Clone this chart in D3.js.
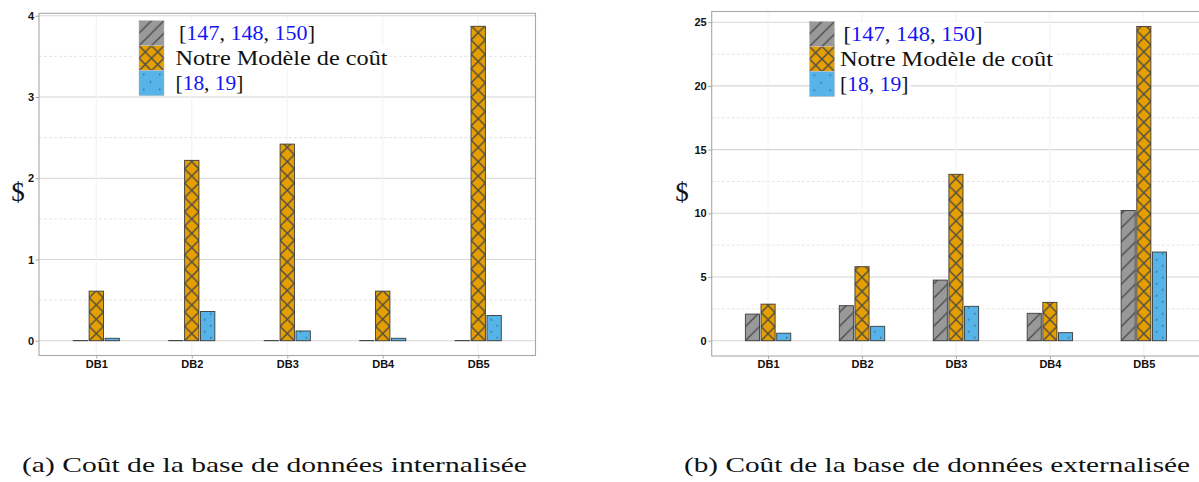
<!DOCTYPE html>
<html>
<head>
<meta charset="utf-8">
<script src="https://cdn.jsdelivr.net/npm/d3@7"></script>
<style>
  html, body { margin: 0; padding: 0; background: #fff; }
  svg { display: block; }
</style>
</head>
<body>
<svg id="fig" width="1199" height="482"></svg>
<script>
// Database cost per configuration, in dollars
const categories = ["DB1", "DB2", "DB3", "DB4", "DB5"];
const seriesLabels = ["[147, 148, 150]", "Notre Modèle de coût", "[18, 19]"];

// (a) internal database
const internalRefs  = [0.002, 0.002, 0.002, 0.002, 0.002];
const internalModel = [0.61, 2.22, 2.42, 0.61, 3.87];
const internalCloud = [0.03, 0.36, 0.12, 0.03, 0.31];
const internalTicks = [0, 1, 2, 3, 4];
const internalMinor = [0.5, 1.5, 2.5, 3.5];

// (b) outsourced database
const externalRefs  = [2.09, 2.75, 4.76, 2.15, 10.22];
const externalModel = [2.87, 5.81, 13.06, 3.01, 24.66];
const externalCloud = [0.59, 1.13, 2.70, 0.63, 6.96];
const externalTicks = [0, 5, 10, 15, 20, 25];
const externalMinor = [2.5, 7.5, 12.5, 17.5, 22.5];

const captions = ["(a) Coût de la base de données internalisée",
                  "(b) Coût de la base de données externalisée"];

const fills = ["#999999", "#E69F00", "#56B4E9"];
const patternKinds = ["stripe", "cross", "dots"];
const inkColor = "#4a4a4a";

const svg = d3.select("#fig");
const defs = svg.append("defs");
let patternId = 0;

// Builds a fill pattern anchored at (ox, oy)
function makePattern(kind, fill, ox, oy, tile, dotRows) {
  const id = "pat" + (patternId++);
  const h = kind === "dots" ? dotRows : tile;
  const p = defs.append("pattern")
    .attr("id", id)
    .attr("patternUnits", "userSpaceOnUse")
    .attr("x", ox).attr("y", oy)
    .attr("width", tile).attr("height", h);
  p.append("rect").attr("width", tile).attr("height", h).attr("fill", fill);
  if (kind === "stripe") {
    const segs = [[-tile/2, tile/2, tile/2, -tile/2], [0, tile, tile, 0], [tile/2, tile*1.5, tile*1.5, tile/2]];
    segs.forEach(s => p.append("line")
      .attr("x1", s[0]).attr("y1", s[1]).attr("x2", s[2]).attr("y2", s[3])
      .attr("stroke", inkColor).attr("stroke-width", 1.3));
  } else if (kind === "cross") {
    p.append("line").attr("x1", 0).attr("y1", 0).attr("x2", tile).attr("y2", tile)
      .attr("stroke", inkColor).attr("stroke-width", 1.4);
    p.append("line").attr("x1", 0).attr("y1", tile).attr("x2", tile).attr("y2", 0)
      .attr("stroke", inkColor).attr("stroke-width", 1.4);
  } else {
    p.append("circle").attr("cx", tile * 0.3).attr("cy", h * 0.25).attr("r", 0.75).attr("fill", "#2e4a60");
    p.append("circle").attr("cx", tile * 0.72).attr("cy", h * 0.75).attr("r", 0.75).attr("fill", "#2e4a60");
  }
  return "url(#" + id + ")";
}

// Stretches a text element to a given width
function fitWidth(sel, w) {
  sel.attr("textLength", w).attr("lengthAdjust", "spacingAndGlyphs");
}

function drawPanel(cfg) {
  const g = svg.append("g");
  const x = d3.scalePoint().domain(categories).range([cfg.left, cfg.right]).padding(0.6);
  const step = x.step();
  const dodge = d3.scalePoint().domain(d3.range(3)).range([-step / 6, step / 6]);
  const barW = step * 0.15;
  const y = d3.scaleLinear().domain(cfg.yDomain).range([cfg.bottom, cfg.top]);

  // grid
  const grid = g.append("g");
  grid.selectAll("line.minor").data(cfg.minor).join("line")
    .attr("x1", cfg.left).attr("x2", cfg.right)
    .attr("y1", d => y(d)).attr("y2", d => y(d))
    .attr("stroke", "#e2e2e2").attr("stroke-width", 0.9).attr("stroke-dasharray", "3,2");
  grid.selectAll("line.major").data(cfg.ticks).join("line")
    .attr("x1", cfg.left).attr("x2", cfg.right)
    .attr("y1", d => y(d)).attr("y2", d => y(d))
    .attr("stroke", "#d6d6d6").attr("stroke-width", 1.1);
  grid.selectAll("line.vert").data(categories).join("line")
    .attr("x1", d => x(d)).attr("x2", d => x(d))
    .attr("y1", cfg.top).attr("y2", cfg.bottom)
    .attr("stroke", "#f1f1f1").attr("stroke-width", 1);

  // bars
  const rows = [];
  cfg.series.forEach((vals, s) => vals.forEach((v, i) => rows.push({ s, cat: categories[i], v })));
  g.append("g").selectAll("rect").data(rows).join("rect")
    .each(function (d) {
      const bx = x(d.cat) + dodge(d.s) - barW / 2;
      const by = y(d.v);
      const bh = y(0) - y(d.v);
      d3.select(this)
        .attr("x", bx).attr("y", by).attr("width", barW).attr("height", bh)
        .attr("fill", makePattern(patternKinds[d.s], fills[d.s], bx, y(0), barW, 12))
        .attr("stroke", "#3a3a3a").attr("stroke-width", 0.9);
    });

  // legend: each row sits on its own white band
  const lg = g.append("g");
  seriesLabels.forEach((label, s) => {
    const ry = cfg.legendY + s * 25;
    const row = lg.append("g");
    const bg = row.append("rect").attr("fill", "#fff");
    const t = row.append("text")
      .attr("x", cfg.legendTextX[s]).attr("y", ry + 19)
      .attr("font-family", "'Liberation Serif', 'Times New Roman', serif")
      .attr("font-size", 20).attr("fill", "#111");
    if (s === 1) {
      t.text(label);
    } else {
      const parts = label.match(/\d+|[^\d]+/g);
      parts.forEach(pt => t.append("tspan").text(pt)
        .attr("fill", /\d/.test(pt) ? "#1515f5" : "#111"));
    }
    fitWidth(t, cfg.legendTextW[s]);
    bg.attr("x", cfg.legendBgX).attr("y", ry)
      .attr("width", cfg.legendTextX[s] + cfg.legendTextW[s] + 2 - cfg.legendBgX)
      .attr("height", 25);
    row.append("rect")
      .attr("x", cfg.legendKeyX).attr("y", ry).attr("width", 25).attr("height", 25)
      .attr("fill", makePattern(patternKinds[s], fills[s], cfg.legendKeyX, ry, s === 2 ? 16 : 12.5, 15))
      .attr("stroke", "#b8b8b8").attr("stroke-width", 0.5);
  });

  // panel border
  g.append("rect")
    .attr("x", cfg.left).attr("y", cfg.top)
    .attr("width", cfg.right - cfg.left).attr("height", cfg.bottom - cfg.top)
    .attr("fill", "none").attr("stroke", "#a8a8a8").attr("stroke-width", 1.1);

  // axes
  const yAxis = g.append("g").attr("transform", `translate(${cfg.left},0)`)
    .call(d3.axisLeft(y).tickValues(cfg.ticks).tickFormat(d3.format("d"))
      .tickSize(3.5).tickPadding(1.5));
  const xAxis = g.append("g").attr("transform", `translate(0,${cfg.bottom})`)
    .call(d3.axisBottom(x).tickSize(3).tickPadding(1.5));
  [yAxis, xAxis].forEach(a => {
    a.select(".domain").remove();
    a.selectAll(".tick line").attr("stroke", "#a8a8a8");
    a.selectAll(".tick text")
      .attr("font-family", "'Liberation Sans', Arial, sans-serif")
      .attr("font-weight", "bold").attr("font-size", 11).attr("fill", "#111");
  });

  // y axis title
  g.append("text")
    .attr("x", cfg.titleX).attr("y", 201)
    .attr("text-anchor", "middle")
    .attr("font-family", "'Liberation Serif', 'Times New Roman', serif")
    .attr("font-size", 27).attr("fill", "#111")
    .text("$");

  // caption
  const cap = g.append("text")
    .attr("x", cfg.captionX).attr("y", 472)
    .attr("font-family", "'Liberation Serif', 'Times New Roman', serif")
    .attr("font-size", 22).attr("fill", "#111")
    .text(cfg.caption);
  fitWidth(cap, cfg.captionW);
}

drawPanel({
  left: 39, right: 535.5, top: 13.3, bottom: 355.5,
  yDomain: [-0.182, 4.03],
  ticks: internalTicks, minor: internalMinor,
  series: [internalRefs, internalModel, internalCloud],
  legendKeyX: 139, legendBgX: 133, legendY: 20.7,
  legendTextX: [179, 175.5, 175.5], legendTextW: [136, 212, 68],
  titleX: 18,
  caption: captions[0], captionX: 22, captionW: 505
});

drawPanel({
  left: 711.7, right: 1200.2, top: 11.5, bottom: 356,
  yDomain: [-1.2, 25.84],
  ticks: externalTicks, minor: externalMinor,
  series: [externalRefs, externalModel, externalCloud],
  legendKeyX: 809.5, legendBgX: 809.5, legendY: 21.5,
  legendTextX: [843.5, 840, 840], legendTextW: [139, 213, 68.5],
  titleX: 682,
  caption: captions[1], captionX: 684, captionW: 506
});
</script>
</body>
</html>
